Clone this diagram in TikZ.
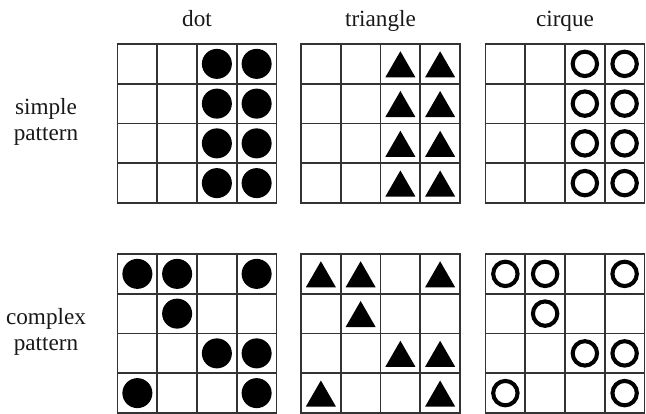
\documentclass[tikz,border=0pt]{standalone}
\usepackage{fontspec}
\setmainfont{Liberation Serif}
\tikzset{
  cellline/.style={line width=1.1pt, draw=black!80},
  ring/.style={draw=black, line width=2.9pt},
  coltitle/.style={font=\fontsize{16.5}{18.5}\selectfont, text=black!90, anchor=base},
  rowlabel/.style={font=\fontsize{16.5}{18.5}\selectfont, text=black!90, align=center},
}
\begin{document}
\begin{tikzpicture}[x=0.025cm, y=-0.025cm]
    \useasboundingbox (0,0) rectangle (646,414);

    % Column and row titles
    \node[coltitle] (dot) at (197,26) {dot};
    \node[coltitle] (triangle) at (380.5,26) {triangle};
    \node[coltitle] (cirque) at (565,26) {cirque};
    \node[rowlabel] (simple) at (46,122) {simple\\pattern};
    \node[rowlabel] (complex) at (46,332) {complex\\pattern};

    % 4x4 grids (cell = 39.75)
    \foreach \gx in {117.5,301,485.5}
      \foreach \gy in {44,254}
        \foreach \i in {0,...,3}
          \foreach \j in {0,...,3}
            \draw[cellline] (\gx+\i*39.75,\gy+\j*39.75) rectangle ++(39.75,39.75);

    % Marks: simple pattern on top, complex pattern below
    \foreach \gy/\cells in {44/{3/1,4/1,3/2,4/2,3/3,4/3,3/4,4/4},
                            254/{1/1,2/1,4/1,2/2,3/3,4/3,1/4,4/4}}
    {
      \foreach \c/\r in \cells
      {
        % dot
        \fill (117.5+\c*39.75-19.875,\gy+\r*39.75-19.875) circle (15);
        % triangle
        \fill[shift={(301+\c*39.75-19.875,\gy+\r*39.75-19.5)}]
          (-15,13) -- (15,13) -- (0,-13) -- cycle;
        % cirque
        \draw[ring] (485.5+\c*39.75-19.875,\gy+\r*39.75-19.875) circle (12.2);
      }
    }
\end{tikzpicture}
\end{document}
